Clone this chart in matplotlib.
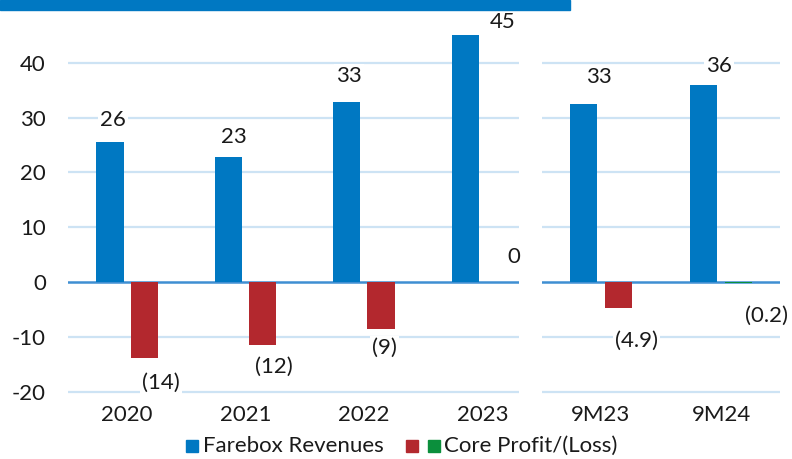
import matplotlib
matplotlib.use("Agg")
import matplotlib.pyplot as plt
from matplotlib.patches import Rectangle
import numpy as np

plt.rcParams['font.family'] = ['Lato', 'DejaVu Sans']
plt.rcParams['axes.unicode_minus'] = False

# data
years = ['2020', '2021', '2022', '2023']
periods = ['9M23', '9M24']
farebox_years = [25.5, 22.9, 32.9, 45.2]
core_years = [-13.9, -11.5, -8.6, 0.0]
farebox_periods = [32.5, 36.0]
core_periods = [-4.8, -0.2]
farebox_text_years = ['26', '23', '33', '45']
core_text_years = ['(14)', '(12)', '(9)', '0']
farebox_text_periods = ['33', '36']
core_text_periods = ['(4.9)', '(0.2)']

BLUE = '#0078c2'
RED = '#b3282e'
GREEN = '#0b8f3c'
GRID = '#cde3f4'
ZERO = '#3f8fd2'
TXT = '#1a1a1a'
FS = 16

# label nudges in pixels (dx, dy) from bar end
blue_nudge_years = [(3, 22), (5, 20), (2, 26), (38, 13)]
red_nudge_years = [(17, -25), (11, -22), (3, -19), (14, 25)]
blue_nudge_periods = [(15, 27), (15, 19)]
red_nudge_periods = [(18, -33), (28, -33)]

W, H = 792, 459
fig = plt.figure(figsize=(W / 100, H / 100), dpi=100)

top_px, bot_px = 13.7, 397
ax_b = 1 - bot_px / H
ax_h = (bot_px - top_px) / H
ax1 = fig.add_axes([68 / W, ax_b, (519 - 68) / W, ax_h])
ax2 = fig.add_axes([542 / W, ax_b, (780 - 542) / W, ax_h])

# top band
fig.patches.append(Rectangle((0, 1 - 10 / H), 570 / W, 10 / H, transform=fig.transFigure,
                             color=BLUE, zorder=5))

bw = 0.23
off = 0.145
px2pt = 0.72


def draw(ax, cats, fare, core, ftxt, ctxt, fn, cn, core_colors):
    x = np.arange(len(cats))
    ax.bar(x - off, fare, bw, color=BLUE, zorder=3)
    ax.bar(x + off, core, bw, color=core_colors, zorder=3)
    for yv in [-20, -10, 10, 20, 30, 40]:
        ax.axhline(yv, color=GRID, lw=1.6, zorder=1)
    ax.axhline(0, color=ZERO, lw=1.8, zorder=2)
    for i in range(len(cats)):
        ax.annotate(ftxt[i], (x[i] - off, fare[i]), xytext=(fn[i][0] * px2pt, fn[i][1] * px2pt),
                    textcoords='offset points', ha='center', va='center', fontsize=FS, color=TXT,
                    bbox=dict(fc='white', ec='none', pad=1.5), zorder=6)
        ax.annotate(ctxt[i], (x[i] + off, core[i]), xytext=(cn[i][0] * px2pt, cn[i][1] * px2pt),
                    textcoords='offset points', ha='center', va='center', fontsize=FS, color=TXT,
                    bbox=dict(fc='white', ec='none', pad=1.5), zorder=6)
    ax.set_xticks(x)
    ax.set_xticklabels(cats, fontsize=FS, color=TXT)
    ax.set_ylim(-21, 49)
    for s in ax.spines.values():
        s.set_visible(False)
    ax.tick_params(length=0, pad=6)


draw(ax1, years, farebox_years, core_years, farebox_text_years, core_text_years,
     blue_nudge_years, red_nudge_years, RED)
ax1.set_xlim(-0.5, 3.31)
ax1.set_yticks([-20, -10, 0, 10, 20, 30, 40])
ax1.tick_params(axis='y', labelsize=FS, labelcolor=TXT, pad=16)

draw(ax2, periods, farebox_periods, core_periods, farebox_text_periods, core_text_periods,
     blue_nudge_periods, red_nudge_periods, [RED, GREEN])
ax2.set_xlim(-0.49, 1.49)
ax2.set_yticks([])

# legend drawn by hand: blue square, then red+green squares sharing one label
sq = 12
ly = 446
for x0, c in [(186, BLUE), (406, RED), (428, GREEN)]:
    fig.patches.append(Rectangle((x0 / W, 1 - (ly + sq / 2) / H), sq / W, sq / H,
                                 transform=fig.transFigure, color=c))
fig.text(203 / W, 1 - ly / H, 'Farebox Revenues', ha='left', va='center', fontsize=FS, color=TXT)
fig.text(444 / W, 1 - ly / H, 'Core Profit/(Loss)', ha='left', va='center', fontsize=FS, color=TXT)

fig.savefig('out.png', dpi=100)
